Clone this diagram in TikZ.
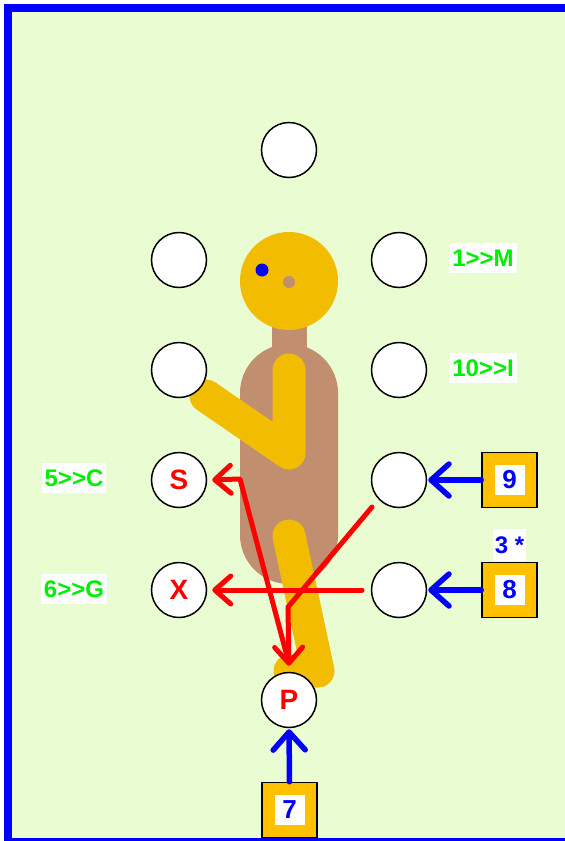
\documentclass[tikz,border=0pt]{standalone}
\usepackage{fontspec}
\setmainfont{Liberation Sans}
\usetikzlibrary{arrows.meta}
\definecolor{bgc}{RGB}{234,252,210}
\definecolor{skin}{RGB}{242,188,0}
\definecolor{torso}{RGB}{193,142,112}
\definecolor{boxc}{RGB}{255,192,0}
\definecolor{lime}{RGB}{0,238,0}
\tikzset{
  spot/.style={circle,draw=black,line width=1.5pt,fill=white,minimum size=55pt,inner sep=0pt,
    text=red,font=\fontsize{28}{28}\selectfont\bfseries},
  srcbox/.style={draw=black,line width=1.5pt,fill=boxc,minimum size=55pt,inner sep=0pt},
  numlab/.style={fill=white,minimum size=30pt,inner sep=0pt,text=blue,font=\fontsize{26}{26}\selectfont\bfseries},
  glab/.style={fill=white,text=lime,inner xsep=3pt,minimum height=30pt,font=\fontsize{24}{24}\selectfont\bfseries},
  limb/.style={skin,line width=33pt,line cap=round,line join=round},
  redarrow/.style={red,line width=5pt,line cap=round,line join=round,-{Straight Barb[length=16pt,width=28pt,round]}},
  bluearrow/.style={blue,line width=5.5pt,line cap=round,-{Straight Barb[length=18pt,width=32pt,round]}}
}
\begin{document}
\begin{tikzpicture}[x=1pt,y=-1pt]
\useasboundingbox (0,0) rectangle (565,841);
\fill[white] (0,0) rectangle (565,841);
\draw[blue,line width=8pt,fill=bgc] (8,8) rectangle (580,842);
% figure
\fill[torso,rounded corners=49pt] (240,344) rectangle (338,584);
\fill[torso] (272,315) rectangle (307,360);
\fill[skin] (289,281) circle (49pt);
\fill[blue] (262,270) circle (6.5pt);
\fill[torso] (289,282) circle (6pt);
\draw[limb] (206,396) -- (289,453) -- (289,370);
\draw[limb] (289,536) -- (318,671) -- (290,671);
% spots
\node[spot] (c1) at (289,150) {};
\node[spot] (c2L) at (179,260) {};
\node[spot] (c2R) at (399,260) {};
\node[spot] (c3L) at (179,370) {};
\node[spot] (c3R) at (399,370) {};
\node[spot] (S) at (179,480) {S};
\node[spot] (c4R) at (399,480) {};
\node[spot] (X) at (179,590) {X};
\node[spot] (c5R) at (399,590) {};
\node[spot] (P) at (289,700) {P};
% boxes
\node[srcbox] (b9) at (509.5,480) {};
\node[numlab] (n9) at (b9) {9};
\node[srcbox] (b8) at (509.5,590) {};
\node[numlab] (n8) at (b8) {8};
\node[srcbox] (b7) at (289.5,810) {};
\node[numlab] (n7) at (b7) {7};
\node[fill=white,text=blue,inner xsep=2pt,minimum height=32pt,font=\fontsize{24}{24}\selectfont\bfseries] (t3) at (509.5,545) {3 *};
% labels
\node[glab] (l1) at (483,258) {1>{}>M};
\node[glab] (l10) at (483,368) {10>{}>I};
\node[glab] (l5) at (74,478) {5>{}>C};
\node[glab] (l6) at (74,589) {6>{}>G};
% red arrows
\coordinate (r1s) at (372,507);
\coordinate (r1m) at (288,607);
\coordinate (r2s) at (288,660);
\coordinate (r2m) at (240,479);
\coordinate (r3s) at (362,590);
\draw[redarrow,shorten >=6pt] (r1s) -- (r1m) -- (P.north);
\draw[redarrow,shorten >=5pt] (r2s) -- (r2m) -- (S.east);
\draw[redarrow,shorten >=5pt] (r3s) -- (X.east);
% blue arrows
\draw[bluearrow,shorten >=1pt] (b9.west) -- (c4R.east);
\draw[bluearrow,shorten >=1pt] (b8.west) -- (c5R.east);
\draw[bluearrow,shorten >=1pt] (b7.north) -- (P.south);
\end{tikzpicture}
\end{document}
